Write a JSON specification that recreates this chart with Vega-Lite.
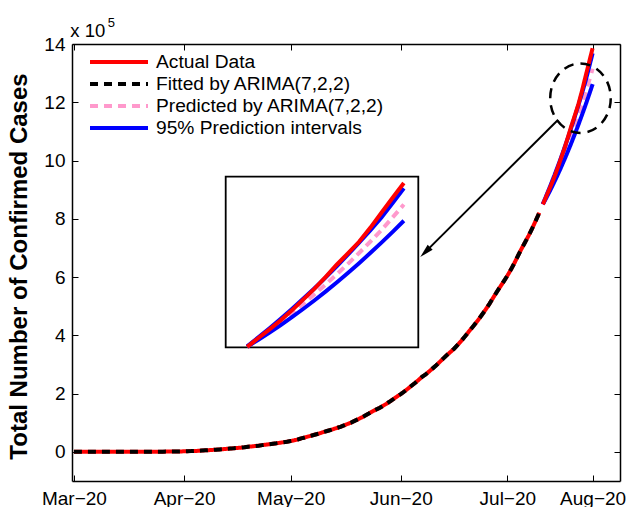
{
  "$schema": "https://vega.github.io/schema/vega-lite/v6.json",
  "width": 548,
  "height": 437,
  "autosize": {"type": "none"},
  "padding": {"left": 72, "top": 44, "right": 10, "bottom": 26},
  "background": "white",
  "config": {
    "view": {"stroke": null},
    "font": "Liberation Sans",
    "axis": {
      "grid": false,
      "domainColor": "#000",
      "domainWidth": 1.5,
      "tickColor": "#000",
      "tickWidth": 1,
      "tickSize": -6,
      "labelColor": "#000",
      "labelFont": "Liberation Sans",
      "labelFontSize": 19,
      "labelFlush": false,
      "labelOverlap": false,
      "labelBound": false,
      "titleColor": "#000",
      "titleFont": "Liberation Sans"
    }
  },
  "datasets": {
    "train": [
      {"date": "2020-03-01", "actual": 3, "fitted": 3},
      {"date": "2020-03-02", "actual": 5, "fitted": 5},
      {"date": "2020-03-03", "actual": 5, "fitted": 5},
      {"date": "2020-03-04", "actual": 28, "fitted": 28},
      {"date": "2020-03-05", "actual": 30, "fitted": 30},
      {"date": "2020-03-06", "actual": 31, "fitted": 31},
      {"date": "2020-03-07", "actual": 34, "fitted": 34},
      {"date": "2020-03-08", "actual": 39, "fitted": 39},
      {"date": "2020-03-09", "actual": 43, "fitted": 43},
      {"date": "2020-03-10", "actual": 56, "fitted": 56},
      {"date": "2020-03-11", "actual": 62, "fitted": 62},
      {"date": "2020-03-12", "actual": 73, "fitted": 73},
      {"date": "2020-03-13", "actual": 82, "fitted": 82},
      {"date": "2020-03-14", "actual": 102, "fitted": 102},
      {"date": "2020-03-15", "actual": 113, "fitted": 113},
      {"date": "2020-03-16", "actual": 119, "fitted": 119},
      {"date": "2020-03-17", "actual": 142, "fitted": 142},
      {"date": "2020-03-18", "actual": 156, "fitted": 156},
      {"date": "2020-03-19", "actual": 194, "fitted": 194},
      {"date": "2020-03-20", "actual": 244, "fitted": 244},
      {"date": "2020-03-21", "actual": 330, "fitted": 330},
      {"date": "2020-03-22", "actual": 396, "fitted": 396},
      {"date": "2020-03-23", "actual": 499, "fitted": 499},
      {"date": "2020-03-24", "actual": 536, "fitted": 536},
      {"date": "2020-03-25", "actual": 657, "fitted": 657},
      {"date": "2020-03-26", "actual": 727, "fitted": 727},
      {"date": "2020-03-27", "actual": 887, "fitted": 887},
      {"date": "2020-03-28", "actual": 987, "fitted": 987},
      {"date": "2020-03-29", "actual": 1024, "fitted": 1024},
      {"date": "2020-03-30", "actual": 1251, "fitted": 1251},
      {"date": "2020-03-31", "actual": 1397, "fitted": 1397},
      {"date": "2020-04-01", "actual": 1998, "fitted": 1998},
      {"date": "2020-04-02", "actual": 2543, "fitted": 2543},
      {"date": "2020-04-03", "actual": 2567, "fitted": 2567},
      {"date": "2020-04-04", "actual": 3082, "fitted": 3082},
      {"date": "2020-04-05", "actual": 3588, "fitted": 3588},
      {"date": "2020-04-06", "actual": 4778, "fitted": 4778},
      {"date": "2020-04-07", "actual": 5311, "fitted": 5311},
      {"date": "2020-04-08", "actual": 5916, "fitted": 5916},
      {"date": "2020-04-09", "actual": 6725, "fitted": 6725},
      {"date": "2020-04-10", "actual": 7598, "fitted": 7598},
      {"date": "2020-04-11", "actual": 8446, "fitted": 8446},
      {"date": "2020-04-12", "actual": 9205, "fitted": 9205},
      {"date": "2020-04-13", "actual": 10453, "fitted": 10453},
      {"date": "2020-04-14", "actual": 11487, "fitted": 11487},
      {"date": "2020-04-15", "actual": 12322, "fitted": 12322},
      {"date": "2020-04-16", "actual": 13430, "fitted": 13430},
      {"date": "2020-04-17", "actual": 14352, "fitted": 14352},
      {"date": "2020-04-18", "actual": 15722, "fitted": 15722},
      {"date": "2020-04-19", "actual": 17615, "fitted": 17615},
      {"date": "2020-04-20", "actual": 18539, "fitted": 18539},
      {"date": "2020-04-21", "actual": 20080, "fitted": 20080},
      {"date": "2020-04-22", "actual": 21370, "fitted": 21370},
      {"date": "2020-04-23", "actual": 23077, "fitted": 23077},
      {"date": "2020-04-24", "actual": 24530, "fitted": 24530},
      {"date": "2020-04-25", "actual": 26283, "fitted": 26283},
      {"date": "2020-04-26", "actual": 27890, "fitted": 27890},
      {"date": "2020-04-27", "actual": 29451, "fitted": 29451},
      {"date": "2020-04-28", "actual": 31324, "fitted": 31324},
      {"date": "2020-04-29", "actual": 33062, "fitted": 33062},
      {"date": "2020-04-30", "actual": 34863, "fitted": 34863},
      {"date": "2020-05-01", "actual": 37257, "fitted": 37257},
      {"date": "2020-05-02", "actual": 39699, "fitted": 39699},
      {"date": "2020-05-03", "actual": 42505, "fitted": 42505},
      {"date": "2020-05-04", "actual": 46437, "fitted": 46437},
      {"date": "2020-05-05", "actual": 49400, "fitted": 49400},
      {"date": "2020-05-06", "actual": 52987, "fitted": 52987},
      {"date": "2020-05-07", "actual": 56351, "fitted": 56351},
      {"date": "2020-05-08", "actual": 59695, "fitted": 59695},
      {"date": "2020-05-09", "actual": 62808, "fitted": 62808},
      {"date": "2020-05-10", "actual": 67161, "fitted": 67161},
      {"date": "2020-05-11", "actual": 70768, "fitted": 70768},
      {"date": "2020-05-12", "actual": 74292, "fitted": 74292},
      {"date": "2020-05-13", "actual": 78055, "fitted": 78055},
      {"date": "2020-05-14", "actual": 81997, "fitted": 81997},
      {"date": "2020-05-15", "actual": 85784, "fitted": 85784},
      {"date": "2020-05-16", "actual": 90648, "fitted": 90648},
      {"date": "2020-05-17", "actual": 95698, "fitted": 95698},
      {"date": "2020-05-18", "actual": 100328, "fitted": 100328},
      {"date": "2020-05-19", "actual": 106475, "fitted": 106475},
      {"date": "2020-05-20", "actual": 112028, "fitted": 112028},
      {"date": "2020-05-21", "actual": 118226, "fitted": 118226},
      {"date": "2020-05-22", "actual": 124794, "fitted": 124794},
      {"date": "2020-05-23", "actual": 131423, "fitted": 131423},
      {"date": "2020-05-24", "actual": 138536, "fitted": 138536},
      {"date": "2020-05-25", "actual": 144950, "fitted": 144950},
      {"date": "2020-05-26", "actual": 150793, "fitted": 150793},
      {"date": "2020-05-27", "actual": 158086, "fitted": 158086},
      {"date": "2020-05-28", "actual": 165386, "fitted": 165386},
      {"date": "2020-05-29", "actual": 173491, "fitted": 173491},
      {"date": "2020-05-30", "actual": 181827, "fitted": 181827},
      {"date": "2020-05-31", "actual": 190609, "fitted": 190609},
      {"date": "2020-06-01", "actual": 198370, "fitted": 198370},
      {"date": "2020-06-02", "actual": 207191, "fitted": 207191},
      {"date": "2020-06-03", "actual": 216824, "fitted": 216824},
      {"date": "2020-06-04", "actual": 226713, "fitted": 226713},
      {"date": "2020-06-05", "actual": 236184, "fitted": 236184},
      {"date": "2020-06-06", "actual": 246622, "fitted": 246622},
      {"date": "2020-06-07", "actual": 257486, "fitted": 257486},
      {"date": "2020-06-08", "actual": 265928, "fitted": 265928},
      {"date": "2020-06-09", "actual": 276146, "fitted": 276146},
      {"date": "2020-06-10", "actual": 286605, "fitted": 286605},
      {"date": "2020-06-11", "actual": 297535, "fitted": 297535},
      {"date": "2020-06-12", "actual": 308993, "fitted": 308993},
      {"date": "2020-06-13", "actual": 320922, "fitted": 320922},
      {"date": "2020-06-14", "actual": 332424, "fitted": 332424},
      {"date": "2020-06-15", "actual": 343091, "fitted": 343091},
      {"date": "2020-06-16", "actual": 354065, "fitted": 354065},
      {"date": "2020-06-17", "actual": 366946, "fitted": 366946},
      {"date": "2020-06-18", "actual": 380532, "fitted": 380532},
      {"date": "2020-06-19", "actual": 395048, "fitted": 395048},
      {"date": "2020-06-20", "actual": 410451, "fitted": 410451},
      {"date": "2020-06-21", "actual": 425282, "fitted": 425282},
      {"date": "2020-06-22", "actual": 440215, "fitted": 440215},
      {"date": "2020-06-23", "actual": 456183, "fitted": 456183},
      {"date": "2020-06-24", "actual": 473105, "fitted": 473105},
      {"date": "2020-06-25", "actual": 490401, "fitted": 490401},
      {"date": "2020-06-26", "actual": 508953, "fitted": 508953},
      {"date": "2020-06-27", "actual": 528859, "fitted": 528859},
      {"date": "2020-06-28", "actual": 548318, "fitted": 548318},
      {"date": "2020-06-29", "actual": 566840, "fitted": 566840},
      {"date": "2020-06-30", "actual": 585481, "fitted": 585481},
      {"date": "2020-07-01", "actual": 604641, "fitted": 604641},
      {"date": "2020-07-02", "actual": 625544, "fitted": 625544},
      {"date": "2020-07-03", "actual": 648315, "fitted": 648315},
      {"date": "2020-07-04", "actual": 673165, "fitted": 673165},
      {"date": "2020-07-05", "actual": 697413, "fitted": 697413},
      {"date": "2020-07-06", "actual": 719665, "fitted": 719665},
      {"date": "2020-07-07", "actual": 742417, "fitted": 742417},
      {"date": "2020-07-08", "actual": 767296, "fitted": 767296},
      {"date": "2020-07-09", "actual": 793802, "fitted": 793802},
      {"date": "2020-07-10", "actual": 820916, "fitted": 820916}
    ],
    "test": [
      {"date": "2020-07-11", "actual": 849553, "predicted": 850500, "lower": 850000, "upper": 851000},
      {"date": "2020-07-12", "actual": 878254, "predicted": 876500, "lower": 872500, "upper": 880500},
      {"date": "2020-07-13", "actual": 906752, "predicted": 903300, "lower": 896100, "upper": 910500},
      {"date": "2020-07-14", "actual": 936181, "predicted": 931200, "lower": 920800, "upper": 941500},
      {"date": "2020-07-15", "actual": 968876, "predicted": 960000, "lower": 946500, "upper": 973500},
      {"date": "2020-07-16", "actual": 1003832, "predicted": 989900, "lower": 973300, "upper": 1006500},
      {"date": "2020-07-17", "actual": 1039084, "predicted": 1020800, "lower": 1001100, "upper": 1040500},
      {"date": "2020-07-18", "actual": 1077781, "predicted": 1053000, "lower": 1030000, "upper": 1076000},
      {"date": "2020-07-19", "actual": 1118043, "predicted": 1086500, "lower": 1059900, "upper": 1113000},
      {"date": "2020-07-20", "actual": 1155191, "predicted": 1121000, "lower": 1090900, "upper": 1151000},
      {"date": "2020-07-21", "actual": 1193078, "predicted": 1156500, "lower": 1123000, "upper": 1190000},
      {"date": "2020-07-22", "actual": 1238635, "predicted": 1193300, "lower": 1156100, "upper": 1230500},
      {"date": "2020-07-23", "actual": 1288108, "predicted": 1231400, "lower": 1190300, "upper": 1272500},
      {"date": "2020-07-24", "actual": 1337022, "predicted": 1272800, "lower": 1225600, "upper": 1320000},
      {"date": "2020-07-25", "actual": 1385522, "predicted": 1315000, "lower": 1261900, "upper": 1368000}
    ]
  },
  "layer": [
    {
      "layer": [
        {
          "data": {"name": "train"},
          "mark": {"type": "line", "strokeWidth": 4},
          "encoding": {
            "x": {
              "field": "date", "type": "temporal",
              "scale": {"type": "utc", "nice": false,
                "domain": [{"year": 2020, "month": 2, "date": 29, "hours": 11, "utc": true}, {"year": 2020, "month": 8, "date": 1, "hours": 17, "utc": true}]},
              "axis": {
                "orient": "bottom", "title": null, "labelPadding": 14,
                "values": [
                  {"year": 2020, "month": 3, "date": 1, "utc": true},
                  {"year": 2020, "month": 4, "date": 1, "utc": true},
                  {"year": 2020, "month": 5, "date": 1, "utc": true},
                  {"year": 2020, "month": 6, "date": 1, "utc": true},
                  {"year": 2020, "month": 7, "date": 1, "utc": true},
                  {"year": 2020, "month": 7, "date": 25, "utc": true}
                ],
                "labelExpr": "utcdate(datum.value) == 25 ? 'Aug−20' : utcFormat(datum.value, '%b') + '−20'"
              }
            },
            "y": {
              "field": "actual", "type": "quantitative",
              "scale": {"domain": [-100000, 1400000], "nice": false, "zero": false},
              "axis": {
                "orient": "left",
                "values": [0, 200000, 400000, 600000, 800000, 1000000, 1200000, 1400000],
                "labelExpr": "format(datum.value / 100000, 'd')",
                "labelPadding": 13,
                "title": "Total Number of Confirmed Cases",
                "titleFontSize": 24,
                "titleFontWeight": "bold",
                "titlePadding": 12,
                "titleY": 222
              }
            },
            "color": {
              "datum": "Actual Data", "type": "nominal",
              "scale": {"domain": ["Actual Data", "Fitted by ARIMA(7,2,2)", "Predicted by ARIMA(7,2,2)", "95% Prediction intervals"],
                        "range": ["#ff0000", "#000000", "#ff99cc", "#0000ff"]},
              "legend": {"orient": "none", "legendX": 16, "legendY": 7, "title": null, "padding": 0,
                         "symbolType": "stroke", "symbolSize": 3364, "symbolStrokeWidth": 4, "clipHeight": 22,
                         "rowPadding": 0, "labelOffset": 6, "labelFontSize": 19.2, "labelFont": "Liberation Sans",
                         "labelColor": "#000", "labelLimit": 400}
            },
            "strokeDash": {
              "datum": "Actual Data", "type": "nominal",
              "scale": {"domain": ["Actual Data", "Fitted by ARIMA(7,2,2)", "Predicted by ARIMA(7,2,2)", "95% Prediction intervals"],
                        "range": [[1, 0], [8, 6], [8, 6], [1, 0]]},
              "legend": {"orient": "none", "legendX": 16, "legendY": 7, "title": null, "padding": 0,
                         "symbolType": "stroke", "symbolSize": 3364, "symbolStrokeWidth": 4, "clipHeight": 22,
                         "rowPadding": 0, "labelOffset": 6, "labelFontSize": 19.2, "labelFont": "Liberation Sans",
                         "labelColor": "#000", "labelLimit": 400}
            }
          }
        },
        {
          "data": {"name": "train"},
          "mark": {"type": "line", "strokeWidth": 4},
          "encoding": {
            "x": {"field": "date", "type": "temporal",
              "axis": {"orient": "top", "title": null, "labels": false,
                "values": [
                  {"year": 2020, "month": 3, "date": 1, "utc": true},
                  {"year": 2020, "month": 4, "date": 1, "utc": true},
                  {"year": 2020, "month": 5, "date": 1, "utc": true},
                  {"year": 2020, "month": 6, "date": 1, "utc": true},
                  {"year": 2020, "month": 7, "date": 1, "utc": true},
                  {"year": 2020, "month": 7, "date": 25, "utc": true}
                ]}},
            "y": {"field": "fitted", "type": "quantitative",
              "axis": {"orient": "right", "title": null, "labels": false,
                "values": [0, 200000, 400000, 600000, 800000, 1000000, 1200000, 1400000]}},
            "color": {"datum": "Fitted by ARIMA(7,2,2)", "type": "nominal"},
            "strokeDash": {"datum": "Fitted by ARIMA(7,2,2)", "type": "nominal"}
          }
        },
        {
          "data": {"name": "test"},
          "mark": {"type": "line", "strokeWidth": 4},
          "encoding": {
            "x": {"field": "date", "type": "temporal", "axis": null},
            "y": {"field": "predicted", "type": "quantitative", "axis": null},
            "color": {"datum": "Predicted by ARIMA(7,2,2)", "type": "nominal"},
            "strokeDash": {"datum": "Predicted by ARIMA(7,2,2)", "type": "nominal"}
          }
        },
        {
          "data": {"name": "test"},
          "mark": {"type": "line", "strokeWidth": 4},
          "encoding": {
            "x": {"field": "date", "type": "temporal", "axis": null},
            "y": {"field": "lower", "type": "quantitative", "axis": null},
            "color": {"datum": "95% Prediction intervals", "type": "nominal"},
            "strokeDash": {"datum": "95% Prediction intervals", "type": "nominal"}
          }
        },
        {
          "data": {"name": "test"},
          "mark": {"type": "line", "strokeWidth": 4},
          "encoding": {
            "x": {"field": "date", "type": "temporal", "axis": null},
            "y": {"field": "upper", "type": "quantitative", "axis": null},
            "color": {"datum": "95% Prediction intervals", "type": "nominal"},
            "strokeDash": {"datum": "95% Prediction intervals", "type": "nominal"}
          }
        },
        {
          "data": {"name": "test"},
          "mark": {"type": "line", "strokeWidth": 4},
          "encoding": {
            "x": {"field": "date", "type": "temporal", "axis": null},
            "y": {"field": "actual", "type": "quantitative", "axis": null},
            "color": {"datum": "Actual Data", "type": "nominal"},
            "strokeDash": {"datum": "Actual Data", "type": "nominal"}
          }
        },
        {
          "data": {"values": [{}]},
          "mark": {"type": "point", "shape": "M-0.873,0A0.873,1,0,1,1,0.873,0A0.873,1,0,1,1,-0.873,0Z",
                   "size": 4816, "filled": false, "color": "#000", "strokeWidth": 2.5, "strokeDash": [10, 7], "opacity": 1},
          "encoding": {
            "x": {"datum": {"year": 2020, "month": 7, "date": 21, "hours": 14, "utc": true}, "type": "temporal", "axis": null},
            "y": {"datum": 1214000, "type": "quantitative", "axis": null}
          }
        },
        {
          "data": {"values": [{}]},
          "mark": {"type": "rule", "color": "#000", "strokeWidth": 2},
          "encoding": {
            "x": {"datum": {"year": 2020, "month": 7, "date": 15, "hours": 7, "utc": true}, "type": "temporal", "axis": null},
            "y": {"datum": 1140000, "type": "quantitative", "axis": null},
            "x2": {"datum": {"year": 2020, "month": 6, "date": 7, "hours": 21, "utc": true}},
            "y2": {"datum": 685600}
          }
        },
        {
          "data": {"values": [{}]},
          "mark": {"type": "point", "shape": "M0,-1L0.5,1L-0.5,1Z", "size": 196, "angle": 225, "filled": true, "color": "#000", "opacity": 1},
          "encoding": {
            "x": {"datum": {"year": 2020, "month": 6, "date": 7, "hours": 21, "utc": true}, "type": "temporal", "axis": null},
            "y": {"datum": 685600, "type": "quantitative", "axis": null}
          }
        },
        {
          "data": {"values": [{}]},
          "mark": {"type": "text", "text": "x 10", "align": "left", "baseline": "alphabetic", "fontSize": 18.5, "font": "Liberation Sans", "color": "#000"},
          "encoding": {
            "x": {"datum": {"year": 2020, "month": 2, "date": 29, "hours": 0, "utc": true}, "type": "temporal", "axis": null},
            "y": {"datum": 1423000, "type": "quantitative", "axis": null}
          }
        },
        {
          "data": {"values": [{}]},
          "mark": {"type": "text", "text": "5", "align": "left", "baseline": "alphabetic", "fontSize": 13, "font": "Liberation Sans", "color": "#000"},
          "encoding": {
            "x": {"datum": {"year": 2020, "month": 3, "date": 10, "hours": 12, "utc": true}, "type": "temporal", "axis": null},
            "y": {"datum": 1457000, "type": "quantitative", "axis": null}
          }
        }
      ],
      "resolve": {"axis": {"x": "independent", "y": "independent"}}
    },
    {
      "layer": [
        {
          "data": {"values": [{}]},
          "mark": {"type": "rect", "filled": false, "color": "#000", "strokeWidth": 1.8},
          "encoding": {
            "x": {"datum": {"year": 2020, "month": 7, "date": 9, "hours": 2, "utc": true}, "type": "temporal",
                  "scale": {"type": "utc", "nice": false, "range": [153.7, 346.3],
                            "domain": [{"year": 2020, "month": 7, "date": 9, "hours": 2, "utc": true}, {"year": 2020, "month": 7, "date": 26, "hours": 7, "utc": true}]},
                  "axis": null},
            "x2": {"datum": {"year": 2020, "month": 7, "date": 26, "hours": 7, "utc": true}},
            "y": {"datum": 848000, "type": "quantitative",
                  "scale": {"domain": [848000, 1406000], "range": [303.3, 132.7], "nice": false, "zero": false},
                  "axis": null},
            "y2": {"datum": 1406000}
          }
        },
        {
          "data": {"name": "test"},
          "mark": {"type": "line", "strokeWidth": 4, "color": "#ff99cc", "strokeDash": [8, 5]},
          "encoding": {
            "x": {"field": "date", "type": "temporal", "axis": null},
            "y": {"field": "predicted", "type": "quantitative", "axis": null}
          }
        },
        {
          "data": {"name": "test"},
          "mark": {"type": "line", "strokeWidth": 4, "color": "#0000ff"},
          "encoding": {
            "x": {"field": "date", "type": "temporal", "axis": null},
            "y": {"field": "lower", "type": "quantitative", "axis": null}
          }
        },
        {
          "data": {"name": "test"},
          "mark": {"type": "line", "strokeWidth": 4, "color": "#0000ff"},
          "encoding": {
            "x": {"field": "date", "type": "temporal", "axis": null},
            "y": {"field": "upper", "type": "quantitative", "axis": null}
          }
        },
        {
          "data": {"name": "test"},
          "mark": {"type": "line", "strokeWidth": 4, "color": "#ff0000"},
          "encoding": {
            "x": {"field": "date", "type": "temporal", "axis": null},
            "y": {"field": "actual", "type": "quantitative", "axis": null}
          }
        }
      ]
    }
  ],
  "resolve": {"scale": {"x": "independent", "y": "independent"}}
}
